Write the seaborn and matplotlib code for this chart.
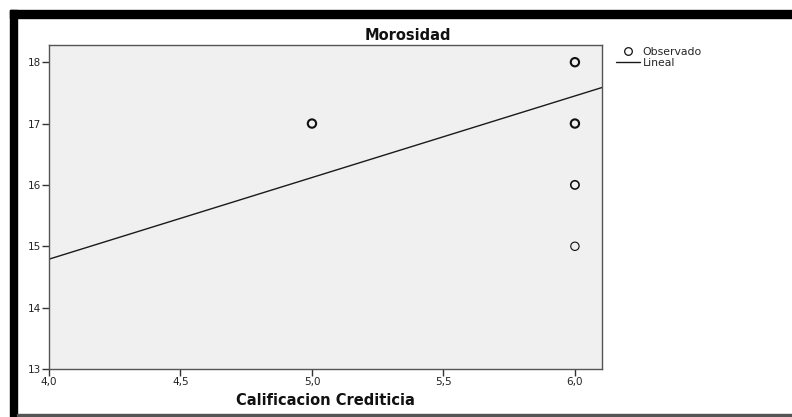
import numpy as np
import pandas as pd
import matplotlib
matplotlib.use("Agg")
import matplotlib.pyplot as plt
from matplotlib.patches import Rectangle
from matplotlib.lines import Line2D
from matplotlib.ticker import FuncFormatter
import seaborn as sns

# Observed cases (credit rating vs. delinquency); count = overlapping cases
calificacion = [5.0, 6.0, 6.0, 6.0, 6.0]
morosidad = [17, 18, 17, 16, 15]
casos = [3, 3, 3, 2, 1]

# Linear fit coefficients
intercepto = 9.47
pendiente = 1.33

x_ticks = [4.0, 4.5, 5.0, 5.5, 6.0]
y_ticks = [13, 14, 15, 16, 17, 18]

sns.set_theme(style="white")
plt.rcParams["font.family"] = ["DejaVu Sans"]

W, H = 792, 417
fig = plt.figure(figsize=(W / 100, H / 100), dpi=100)
fig.patch.set_facecolor("white")

ax = fig.add_axes([49 / W, 1 - 369 / H, (602 - 49) / W, (369 - 45) / H])
ax.set_facecolor("#f0f0f0")

xlim = (4.0, 6.103)
ylim = (13.0, 18.28)
ax.set_xlim(*xlim)
ax.set_ylim(*ylim)

df = pd.DataFrame({"x": calificacion, "y": morosidad, "n": casos})

# fitted line across the visible range
xs = np.array(xlim)
fit = pd.DataFrame({"x": xs, "y": intercepto + pendiente * xs})
sns.lineplot(data=fit, x="x", y="y", ax=ax, color="#1a1a1a", linewidth=1.0,
             legend=False)

# heavier outline where several cases overlap
sns.scatterplot(data=df, x="x", y="y", ax=ax, marker="o", s=36,
                facecolor="none", edgecolor="#111111",
                linewidth=[0.45 + 0.35 * n for n in casos], legend=False,
                zorder=3)

for sp in ax.spines.values():
    sp.set_color("#555555")
    sp.set_linewidth(1.0)

ax.set_xticks(x_ticks)
ax.set_yticks(y_ticks)
ax.xaxis.set_major_formatter(FuncFormatter(lambda v, p: f"{v:.1f}".replace(".", ",")))
ax.yaxis.set_major_formatter(FuncFormatter(lambda v, p: f"{int(v)}"))
ax.tick_params(axis="both", which="major", direction="out", length=5,
               width=1.0, color="#333333", labelsize=7.5, labelcolor="#222222",
               pad=1, bottom=True, left=True)

ax.set_xlabel("Calificacion Crediticia", fontsize=10.5, fontweight="bold",
              color="#111111", labelpad=4)
ax.set_ylabel("")

fig.text(408 / W, 1 - 35 / H, "Morosidad", ha="center", va="center",
         fontsize=10.5, fontweight="bold", color="#111111")

handles = [
    Line2D([], [], linestyle="none", marker="o", markersize=5.5,
           markerfacecolor="none", markeredgecolor="#111111",
           markeredgewidth=0.9),
    Line2D([], [], color="#1a1a1a", linewidth=1.0),
]
fig.legend(handles, ["Observado", "Lineal"], loc="upper left",
           bbox_to_anchor=(616 / W, 1 - 47 / H), frameon=False, fontsize=7.8,
           handlelength=2.25, handletextpad=0.2, labelspacing=0.08,
           borderpad=0, borderaxespad=0)

# outer frame
fig.patches.append(Rectangle((10 / W, 1 - 18 / H), 1 - 10 / W, 8 / H,
                             transform=fig.transFigure, color="black",
                             zorder=0))
fig.patches.append(Rectangle((10 / W, 0), 7 / W, 1 - 10 / H,
                             transform=fig.transFigure, color="black",
                             zorder=0))
fig.patches.append(Rectangle((17 / W, 1 / H), 1 - 17 / W, 2 / H,
                             transform=fig.transFigure, color="#555555",
                             zorder=0))

fig.savefig("out.png", dpi=100, facecolor="white")
